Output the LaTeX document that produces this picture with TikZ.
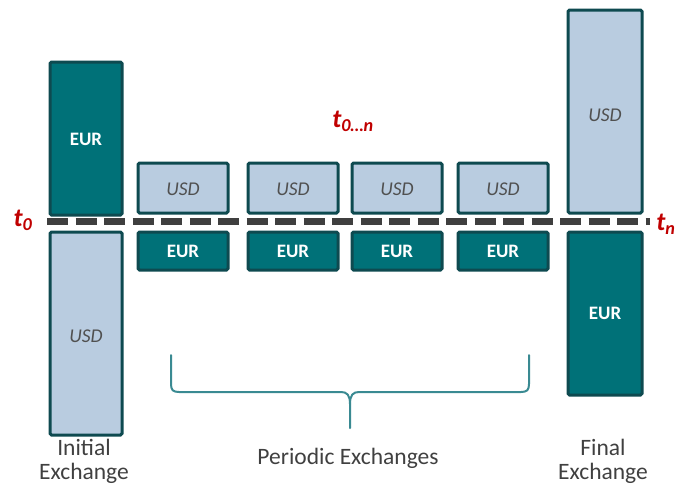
\documentclass[tikz,border=0pt]{standalone}
\usepackage{fontspec}
\setmainfont{Carlito}
\definecolor{teal1}{HTML}{007178}
\definecolor{tealdark}{HTML}{0E4A50}
\definecolor{lightb}{HTML}{B9CCE0}
\definecolor{tred}{HTML}{C00000}
\definecolor{greyt}{HTML}{404040}
\definecolor{usdt}{HTML}{505050}
\definecolor{dashc}{HTML}{3F3F3F}
\definecolor{bracec}{HTML}{3A8A92}
\tikzset{
  eurbox/.style={draw=tealdark, line width=3pt, fill=teal1, rounded corners=1.5pt},
  usdbox/.style={draw=tealdark, line width=3pt, fill=lightb, rounded corners=1.5pt},
  eurtxt/.style={text=white, font=\bfseries\fontsize{19}{22}\selectfont},
  usdtxt/.style={text=usdt, font=\itshape\fontsize{19.5}{22}\selectfont},
  lbl/.style={text=greyt, font=\fontsize{23.5}{24}\selectfont, align=center},
  tlbl/.style={text=tred, font=\bfseries\itshape\fontsize{26}{28}\selectfont, inner sep=0pt}
}
\begin{document}
\begin{tikzpicture}[x=1pt,y=-1pt]
\useasboundingbox (0,0) rectangle (683,485);
% dashed line
\coordinate (ls) at (47,221);
\coordinate (le) at (650,221);
\draw[dashc, line width=7pt, dash pattern=on 21pt off 7.5pt] (ls) -- (le);
% initial
\draw[eurbox] (50,62) rectangle (122,215);
\node[eurtxt] (ie) at (86,139) {EUR};
\draw[usdbox] (50,232) rectangle (122,435);
\node[usdtxt] (iu) at (86,336) {USD};
% periodic
\foreach \xa/\xb/\n in {138/228/a,248/338/b,352/442/c,458/548/d}{
  \draw[usdbox] (\xa,163) rectangle (\xb,213);
  \node[usdtxt] (pu\n) at ({(\xa+\xb)/2},189) {USD};
  \draw[eurbox] (\xa,232) rectangle (\xb,270);
  \node[eurtxt] (pe\n) at ({(\xa+\xb)/2},251) {EUR};
}
% final
\draw[usdbox] (568,10) rectangle (642,213);
\node[usdtxt] (fu) at (605,115) {USD};
\draw[eurbox] (568,232) rectangle (642,395);
\node[eurtxt] (fe) at (605,313) {EUR};
% time labels
\node[tlbl] (t0) at (23,220) {t\textsubscript{0}};
\node[tlbl] (tn) at (666,224) {t\textsubscript{n}};
\node[tlbl] (t0n) at (353,121) {t\textsubscript{0…n}};
% brace
\coordinate (bl) at (171,355);
\coordinate (br) at (529,355);
\coordinate (btip) at (350,428);
\draw[bracec, line width=2pt, line cap=round]
  (bl) -- (171,384) .. controls (171,390) and (173,392) .. (179,392)
  -- (341,392) .. controls (347,392) and (350,395) .. (350,404) -- (btip);
\draw[bracec, line width=2pt, line cap=round]
  (br) -- (529,384) .. controls (529,390) and (527,392) .. (521,392)
  -- (359,392) .. controls (353,392) and (350,395) .. (350,404);
% bottom labels
\node[lbl] (ini) at (84,461) {Initial\\Exchange};
\node[lbl] (per) at (348,458) {Periodic Exchanges};
\node[lbl] (fin) at (603,461) {Final\\Exchange};
\end{tikzpicture}
\end{document}
